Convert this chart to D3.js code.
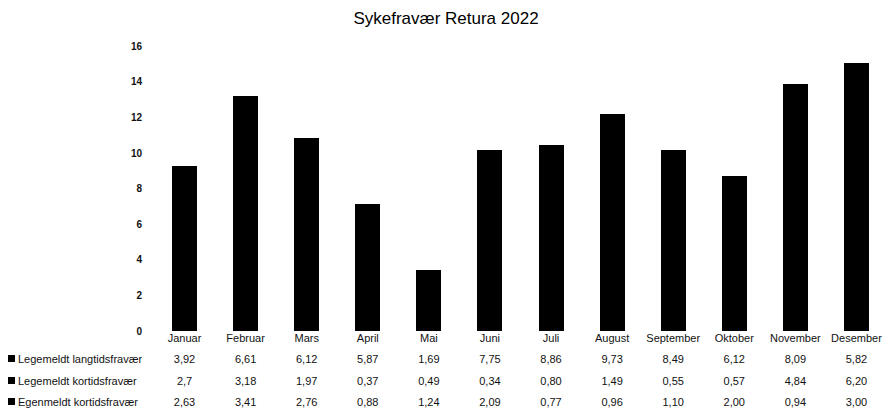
<!DOCTYPE html>
<html><head><meta charset="utf-8">
<script src="https://cdn.jsdelivr.net/npm/d3@7"></script>
<style>body{margin:0;background:#fff}svg{display:block}</style>
</head><body>
<script>
const months = ["Januar","Februar","Mars","April","Mai","Juni","Juli","August","September","Oktober","November","Desember"];
const seriesNames = ["Legemeldt langtidsfravær","Legemeldt kortidsfravær","Egenmeldt kortidsfravær"];
const langtid = [3.92,6.61,6.12,5.87,1.69,7.75,8.86,9.73,8.49,6.12,8.09,5.82];
const korttidLege = [2.7,3.18,1.97,0.37,0.49,0.34,0.80,1.49,0.55,0.57,4.84,6.20];
const egenmeldt = [2.63,3.41,2.76,0.88,1.24,2.09,0.77,0.96,1.10,2.00,0.94,3.00];
const labelsLangtid = ["3,92","6,61","6,12","5,87","1,69","7,75","8,86","9,73","8,49","6,12","8,09","5,82"];
const labelsKortLege = ["2,7","3,18","1,97","0,37","0,49","0,34","0,80","1,49","0,55","0,57","4,84","6,20"];
const labelsEgen = ["2,63","3,41","2,76","0,88","1,24","2,09","0,77","0,96","1,10","2,00","0,94","3,00"];
const yTicks = [0,2,4,6,8,10,12,14,16];
const title = "Sykefravær Retura 2022";

const W = 892, H = 410;
const svg = d3.select("body").append("svg").attr("width", W).attr("height", H);
const font = "'Liberation Sans', Arial, sans-serif";

const x = d3.scaleBand().domain(months).range([154, 887]).paddingInner(0.59).paddingOuter(0.295);
const y = d3.scaleLinear().domain([0, 16]).range([331, 46]);

const table = months.map((m, i) => ({month: m, s0: langtid[i], s1: korttidLege[i], s2: egenmeldt[i]}));
const stack = d3.stack().keys(["s0","s1","s2"])(table);

svg.append("text").attr("x", 446).attr("y", 24).attr("text-anchor", "middle")
  .attr("font-family", font).attr("font-size", 17).attr("fill", "#000").text(title);

// y axis
const yAxis = d3.axisLeft(y).tickValues(yTicks).tickSize(0).tickPadding(0).tickFormat(d3.format("d"));
const ya = svg.append("g").attr("transform", "translate(142,0)").call(yAxis);
ya.select(".domain").remove();
ya.selectAll("text").attr("font-family", font).attr("font-size", 10).attr("font-weight", "bold").attr("fill", "#111");

// bars
svg.append("g").attr("shape-rendering", "crispEdges").selectAll("g").data(stack).join("g")
  .selectAll("rect").data(d => d).join("rect")
  .attr("x", d => Math.round(x(d.data.month)))
  .attr("width", Math.round(x.bandwidth()))
  .attr("y", d => Math.round(y(d[1])))
  .attr("height", d => Math.round(y(d[0])) - Math.round(y(d[1])))
  .attr("fill", "#000");

// x axis labels
const xAxis = d3.axisBottom(x).tickSize(0).tickPadding(0);
const xa = svg.append("g").attr("transform", "translate(0,334)").call(xAxis);
xa.select(".domain").remove();
xa.selectAll("text").attr("font-family", font).attr("font-size", 11).attr("fill", "#111");

// data table
const rows = [labelsLangtid, labelsKortLege, labelsEgen];
const rowY = [363, 385, 406];
rows.forEach((vals, r) => {
  const g = svg.append("g");
  g.append("rect").attr("x", 8).attr("y", rowY[r] - 8).attr("width", 7).attr("height", 7).attr("fill", "#000");
  g.append("text").attr("x", 18).attr("y", rowY[r]).attr("font-family", font).attr("font-size", 11).attr("fill", "#111").text(seriesNames[r]);
  g.selectAll("text.v").data(vals).join("text").attr("class", "v")
    .attr("x", (d, i) => x(months[i]) + x.bandwidth() / 2)
    .attr("y", rowY[r]).attr("text-anchor", "middle")
    .attr("font-family", font).attr("font-size", 11).attr("fill", "#111").text(d => d);
});
</script>
</body></html>
